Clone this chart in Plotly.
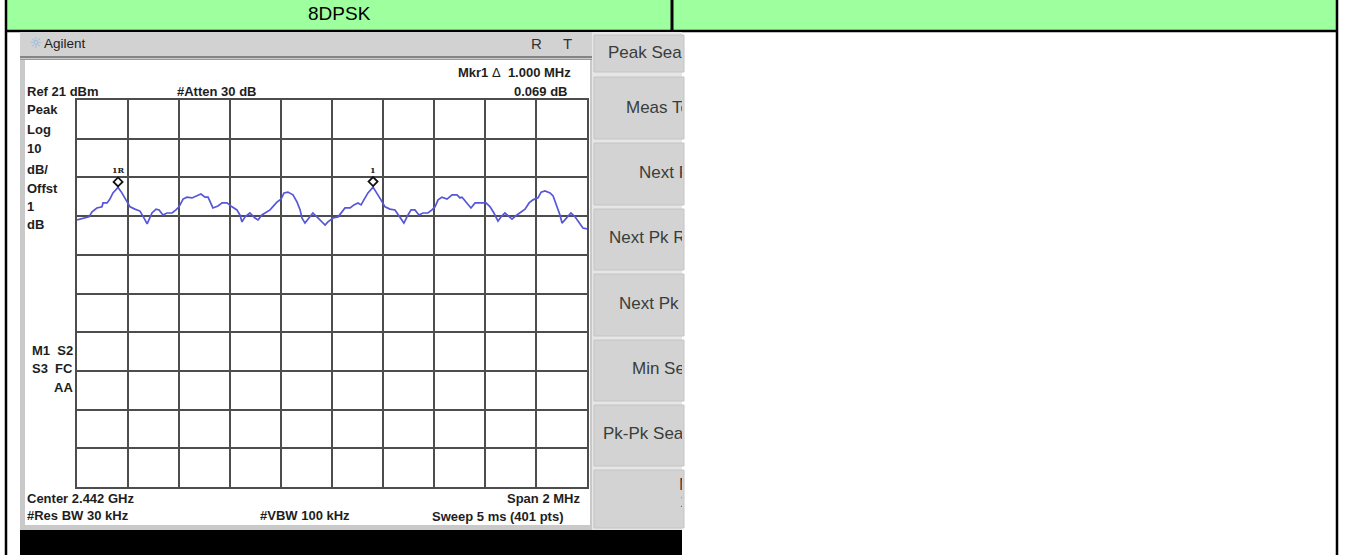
import plotly.graph_objects as go

W, H = 1360, 555

# ---------------- data ----------------
freq_mhz = [
    2441.000, 2441.024, 2441.047, 2441.059, 2441.078, 2441.098, 2441.102, 2441.118,
    2441.129, 2441.141, 2441.161, 2441.176, 2441.196, 2441.208, 2441.227, 2441.247,
    2441.263, 2441.275, 2441.294, 2441.310, 2441.322, 2441.337, 2441.353, 2441.373,
    2441.388, 2441.400, 2441.416, 2441.431, 2441.451, 2441.467, 2441.486, 2441.502,
    2441.514, 2441.533, 2441.553, 2441.569, 2441.588, 2441.608, 2441.627, 2441.639,
    2441.647, 2441.659, 2441.678, 2441.698, 2441.710, 2441.725, 2441.737, 2441.757,
    2441.784, 2441.800, 2441.812, 2441.827, 2441.847, 2441.863, 2441.875, 2441.882,
    2441.894, 2441.914, 2441.925, 2441.941, 2441.961, 2441.973, 2441.984, 2442.004,
    2442.024, 2442.035, 2442.051, 2442.071, 2442.086, 2442.102, 2442.114, 2442.125,
    2442.141, 2442.161, 2442.176, 2442.192, 2442.208, 2442.227, 2442.247, 2442.263,
    2442.282, 2442.298, 2442.310, 2442.325, 2442.341, 2442.357, 2442.376, 2442.392,
    2442.404, 2442.416, 2442.431, 2442.451, 2442.471, 2442.490, 2442.502, 2442.510,
    2442.529, 2442.545, 2442.561, 2442.580, 2442.604, 2442.620, 2442.635, 2442.651,
    2442.663, 2442.678, 2442.694, 2442.706, 2442.725, 2442.737, 2442.757, 2442.773,
    2442.788, 2442.808, 2442.820, 2442.835, 2442.855, 2442.867, 2442.882, 2442.894,
    2442.902, 2442.922, 2442.937, 2442.953, 2442.969, 2442.984, 2443.000,
]
level_dbm = [
    -10.0, -9.5, -9.2, -7.9, -6.9, -6.6, -5.6, -5.6,
    -4.6, -3.0, -1.6, -3.0, -5.4, -6.6, -7.2, -7.7,
    -9.5, -11.0, -8.2, -7.2, -7.4, -8.7, -8.2, -8.2,
    -7.4, -6.6, -4.6, -4.1, -4.3, -3.8, -3.3, -4.1,
    -4.1, -6.9, -6.4, -5.6, -5.6, -6.6, -7.4, -8.7,
    -10.5, -9.2, -8.2, -9.5, -10.0, -8.7, -8.2, -7.4,
    -5.4, -4.6, -3.0, -2.8, -3.5, -5.4, -7.4, -9.5,
    -10.8, -9.2, -8.2, -9.2, -10.5, -11.3, -10.5, -9.5,
    -9.2, -8.2, -6.9, -6.9, -6.1, -5.6, -6.1, -4.8,
    -3.0, -1.5, -3.0, -4.8, -6.6, -7.2, -7.4, -9.0,
    -10.8, -8.7, -7.4, -7.4, -8.7, -8.2, -8.2, -7.4,
    -6.6, -4.8, -4.1, -4.6, -3.5, -3.5, -4.3, -4.1,
    -5.6, -6.9, -5.6, -5.6, -5.6, -6.6, -8.2, -10.3,
    -9.2, -8.2, -9.2, -9.8, -8.7, -8.2, -7.2, -5.6,
    -4.8, -4.3, -2.8, -2.5, -3.0, -3.8, -6.6, -8.7,
    -10.8, -9.2, -8.2, -9.2, -10.8, -12.1, -12.3,
]
marker_names = ["1R", "1"]
marker_freq_mhz = [2441.161, 2442.161]
marker_level_dbm = [-1.6, -1.5]

ref_level_dbm = 21
db_per_div = 10
start_mhz, stop_mhz = 2441.0, 2443.0

header_title = "8DPSK"
softkey_labels = ["Peak Search", "Meas Tools", "Next Peak", "Next Pk Right",
                  "Next Pk Left", "Min Search", "Pk-Pk Search", "More", "1 of 2"]

# ---------------- helpers (pixel -> paper) ----------------
def px(x):
    return x / W

def py(y):
    return 1 - y / H

shapes = []

def rect(x0, y0, x1, y1, fill, line=None, lw=0, layer="below"):
    shapes.append(dict(type="rect", xref="paper", yref="paper",
                       x0=px(x0), x1=px(x1), y0=py(y1), y1=py(y0),
                       fillcolor=fill, layer=layer,
                       line=dict(color=line or fill, width=lw)))

def line(x0, y0, x1, y1, color, lw, layer="below"):
    shapes.append(dict(type="line", xref="paper", yref="paper",
                       x0=px(x0), x1=px(x1), y0=py(y0), y1=py(y1),
                       layer=layer, line=dict(color=color, width=lw)))

annotations = []

def text(t, x, y, anchor="left", size=13, bold=True, color="#1e1e1e",
         family="Liberation Sans, Arial, sans-serif"):
    annotations.append(dict(text=f"<b>{t}</b>" if bold else t,
                            xref="paper", yref="paper", x=px(x), y=py(y),
                            xanchor=anchor, yanchor="middle", showarrow=False,
                            font=dict(size=size, color=color, family=family)))

# ---------------- table frame ----------------
rect(7, 0, 1337, 31, "#9eff9e")
line(6, 0, 6, 555, "#000000", 2.5)
line(1337, 0, 1337, 555, "#000000", 2.5)
line(6, 31, 1337, 31, "#000000", 2.5)
line(672, 0, 672, 31, "#000000", 3)
text(header_title, 339, 14, anchor="center", size=19, bold=False, color="#000000")

# ---------------- analyzer screenshot ----------------
rect(20, 32, 592, 530, "#c9c9c9")           # bezel
rect(20, 32, 592, 56, "#d2d2d2")           # title bar
line(20, 57, 592, 57, "#6e6e6e", 1.5)
line(20, 59.5, 592, 59.5, "#9a9a9a", 1)
rect(25, 60, 590, 525, "#ffffff")          # screen
rect(20, 530, 682, 555, "#000000")         # bottom black bar
rect(592, 32, 682, 530, "#e6e6e6")         # softkey panel
key_bounds = [(35, 72), (77, 139), (143, 205), (209, 270),
              (274, 336), (340, 401), (405, 466), (470, 528)]
for (k0, k1) in key_bounds:
    rect(594, k0, 684, k1, "#d3d3d3", line="#c4c4c4", lw=1)

text("\u263c", 35, 43, anchor="center", size=15, bold=False, color="#8fb3e6",
     family="DejaVu Sans")
text("Agilent", 42, 44, size=13.5, bold=False)
text("R", 536, 44, anchor="center", size=15, bold=False, color="#333333")
text("T", 567, 44, anchor="center", size=15, bold=False, color="#333333")

text("Mkr1 <span style='font-weight:normal'>\u0394</span>  1.000 MHz", 573, 72, anchor="right")
text("0.069 dB", 569, 91, anchor="right")
text("Ref 21 dBm", 25, 92)
text("#Atten 30 dB", 175, 92)
for t, yy in zip(["Peak", "Log", "10", "dB/", "Offst", "1", "dB"],
                 [109, 129, 149, 169, 188, 207, 224]):
    text(t, 25, yy)
text("M1  S2", 75, 350, anchor="right")
text("S3  FC", 75, 368, anchor="right")
text("AA", 75, 387, anchor="right")
text("Center 2.442 GHz", 25, 498)
text("#Res BW 30 kHz", 25, 515)
text("#VBW 100 kHz", 258, 515)
text("Span 2 MHz", 582, 498, anchor="right")
text("Sweep 5 ms (401 pts)", 566, 516, anchor="right")

# ---------------- figure ----------------
fig = go.Figure()

fig.add_trace(go.Scatter(
    x=freq_mhz, y=level_dbm, mode="lines",
    line=dict(color="#5656d8", width=1.7),
    hoverinfo="skip", showlegend=False))

# marker diamonds (pixel-sized, anchored at marker data points)
for name, mf, ml in zip(marker_names, marker_freq_mhz, marker_level_dbm):
    shapes.append(dict(type="path", xref="x", yref="y",
                       xsizemode="pixel", ysizemode="pixel",
                       xanchor=mf, yanchor=ml,
                       path="M 0 1 L 4.5 5.5 L 0 10 L -4.5 5.5 Z",
                       line=dict(color="#111111", width=1.8),
                       fillcolor="rgba(255,255,255,0)", layer="above"))
    annotations.append(dict(text=f"<b>{name}</b>", xref="x", yref="y",
                            x=mf, y=ml, yshift=17, showarrow=False,
                            xanchor="center", yanchor="middle",
                            font=dict(size=8, color="#222222",
                                      family="DejaVu Serif, serif")))

# softkey labels, clipped at the panel edge
soft_x = [608, 626, 639, 609, 619, 632, 603, 679, 680]
soft_y = [54, 109, 174, 239, 305, 370, 435, 486, 503]
fig.add_trace(go.Scatter(
    x=soft_x, y=soft_y, mode="text", text=softkey_labels,
    textposition="middle right", cliponaxis=True,
    textfont=dict(size=17, color="#3a3d3a", family="Liberation Sans, Arial"),
    xaxis="x2", yaxis="y2", hoverinfo="skip", showlegend=False))

grid_color = "#4d4d4d"
fig.update_layout(
    width=W, height=H,
    margin=dict(l=0, r=0, t=0, b=0),
    paper_bgcolor="#ffffff",
    plot_bgcolor="rgba(0,0,0,0)",
    showlegend=False,
    xaxis=dict(domain=[px(77), px(587)], range=[start_mhz, stop_mhz],
               tick0=start_mhz, dtick=(stop_mhz - start_mhz) / 10,
               showgrid=True, gridcolor=grid_color, gridwidth=1.5,
               showline=True, mirror=True, linecolor=grid_color, linewidth=1.8,
               zeroline=False, showticklabels=False, ticks="", fixedrange=True),
    yaxis=dict(domain=[py(487), py(100)],
               range=[ref_level_dbm - 10 * db_per_div, ref_level_dbm],
               tick0=ref_level_dbm, dtick=db_per_div,
               showgrid=True, gridcolor=grid_color, gridwidth=1.5,
               showline=True, mirror=True, linecolor=grid_color, linewidth=1.8,
               zeroline=False, showticklabels=False, ticks="", fixedrange=True),
    xaxis2=dict(domain=[px(593), px(682)], range=[593, 682], visible=False,
                anchor="y2", fixedrange=True),
    yaxis2=dict(domain=[py(530), py(32)], range=[530, 32], visible=False,
                anchor="x2", fixedrange=True),
    shapes=shapes,
    annotations=annotations,
)

fig.write_html("out.html", include_plotlyjs=True,
               config={"displayModeBar": False},
               post_script="document.body.style.margin='0';")
